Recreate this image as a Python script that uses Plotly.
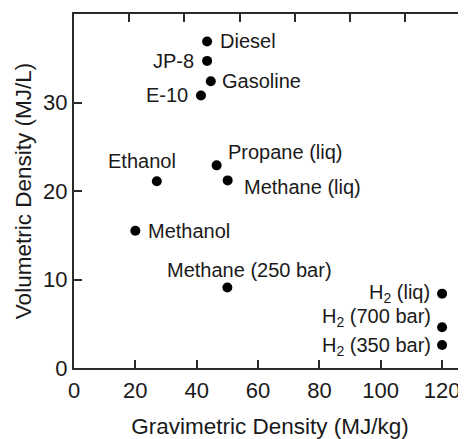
import plotly.graph_objects as go

# ---- data ----
fuels = ["Diesel", "JP-8", "Gasoline", "E-10", "Ethanol", "Propane (liq)",
         "Methane (liq)", "Methanol", "Methane (250 bar)",
         "H<sub>2</sub> (liq)", "H<sub>2</sub> (700 bar)", "H<sub>2</sub> (350 bar)"]
gravimetric = [43.4, 43.4, 44.6, 41.4, 27.0, 46.5, 50.1, 20.0, 50.0, 120.0, 120.0, 120.0]
volumetric = [36.9, 34.7, 32.4, 30.8, 21.1, 22.9, 21.2, 15.5, 9.1, 8.4, 4.6, 2.6]
x_ticks = [0, 20, 40, 60, 80, 100, 120]
y_ticks = [0, 10, 20, 30]
top_ticks_kwh_kg = [5, 10, 15, 20, 25, 30, 35]
right_ticks_kwh_l = [2, 4, 6, 8, 10]

# ---- label placement (style) ----
label_style = [
    # xanchor, yanchor, xshift, yshift
    ("left", "middle", 11, 0),
    ("right", "middle", -11, 0),
    ("left", "middle", 9, 0),
    ("right", "middle", -11, 0),
    ("center", "middle", -15, 20),
    ("left", "middle", 9, 13),
    ("left", "middle", 14, -7),
    ("left", "middle", 11, 0),
    ("center", "middle", 22, 17),
    ("right", "middle", -10, 0),
    ("right", "middle", -9, 10),
    ("right", "middle", -9, -2),
]

XMAX = 127.8
YMAX = 40
TXT = "#1a1a1a"
AX = "#2a2a2a"
FONT = "Liberation Sans, Arial, Helvetica, sans-serif"

fig = go.Figure()
fig.add_trace(go.Scatter(
    x=gravimetric, y=volumetric, mode="markers",
    marker=dict(size=10, color="black"), hoverinfo="skip", showlegend=False,
))
fig.add_trace(go.Scatter(x=[], y=[], xaxis="x2", yaxis="y2", showlegend=False))

for name, gx, vy, (xa, ya, xs, ys) in zip(fuels, gravimetric, volumetric, label_style):
    fig.add_annotation(x=gx, y=vy, xref="x", yref="y", text=name, showarrow=False,
                       xanchor=xa, yanchor=ya, xshift=xs, yshift=ys,
                       font=dict(size=20, color=TXT, family=FONT))

# page body has an 8px default margin, so the figure is 8px smaller than the window
fig.update_layout(
    width=458, height=431,
    margin=dict(l=66, r=0, t=6, b=71, autoexpand=False),
    paper_bgcolor="white", plot_bgcolor="white",
    font=dict(family=FONT, color=TXT, size=22),
    xaxis=dict(range=[0, XMAX], tickvals=x_ticks, ticks="inside", ticklen=8,
               tickwidth=2, tickcolor=AX, showline=True, linecolor=AX, linewidth=2,
               showgrid=False, zeroline=False, tickfont=dict(size=22),
               ticklabelstandoff=2, automargin=False,
               title=dict(text="Gravimetric Density (MJ/kg)", font=dict(size=22.5), standoff=17)),
    yaxis=dict(range=[0, YMAX], tickvals=y_ticks, ticks="inside", ticklen=8,
               tickwidth=2, tickcolor=AX, showline=True, linecolor=AX, linewidth=2,
               showgrid=False, zeroline=False, tickfont=dict(size=22), automargin=False,
               title=dict(text="Volumetric Density (MJ/L)", font=dict(size=22.5), standoff=5)),
    xaxis2=dict(overlaying="x", side="top", range=[0, XMAX / 3.6],
                tickvals=top_ticks_kwh_kg, ticks="inside", ticklen=8, tickwidth=2,
                tickcolor=AX, showline=True, linecolor=AX, linewidth=2,
                showgrid=False, zeroline=False, showticklabels=False, automargin=False),
    yaxis2=dict(overlaying="y", side="right", range=[0, YMAX / 3.6],
                tickvals=right_ticks_kwh_l, ticks="inside", ticklen=8, tickwidth=2,
                tickcolor=AX, showline=False, showgrid=False, zeroline=False,
                showticklabels=False, automargin=False),
)

fig.write_html("out.html")
